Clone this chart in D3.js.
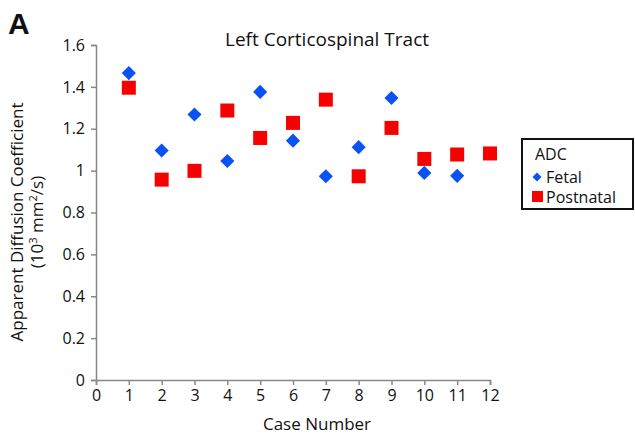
<!DOCTYPE html>
<html>
<head>
<meta charset="utf-8">
<script src="https://cdn.jsdelivr.net/npm/d3@7"></script>
<style>
  body { margin: 0; background: #fff; }
  text { font-family: "Open Sans", sans-serif; fill: #111; }
</style>
</head>
<body>
<script>
const w = 635;
const h = 435;

// data
const cases = [1, 2, 3, 4, 5, 6, 7, 8, 9, 10, 11, 12];
const fetal = [1.466, 1.096, 1.268, 1.046, 1.376, 1.143, 0.973, 1.112, 1.347, 0.989, 0.975, null];
const postnatal = [1.396, 0.957, 0.999, 1.287, 1.156, 1.228, 1.339, 0.973, 1.204, 1.056, 1.077, 1.082];
const xTicks = d3.range(0, 13);
const yTicks = [0, 0.2, 0.4, 0.6, 0.8, 1, 1.2, 1.4, 1.6];

const margin = {left: 96, right: 145, top: 45, bottom: 55};

let svg = d3.select("body")
  .append("svg")
  .attr("width", w)
  .attr("height", h);

const x = d3.scaleLinear().domain([0, 12]).range([margin.left, w - margin.right]);
const y = d3.scaleLinear().domain([0, 1.6]).range([h - margin.bottom, margin.top]);

// axes
const xAxis = svg.append("g")
  .attr("transform", `translate(0,${y(0)})`)
  .call(d3.axisBottom(x).tickValues(xTicks).tickSize(5).tickPadding(5).tickFormat(d3.format("d")));
const yAxis = svg.append("g")
  .attr("transform", `translate(${x(0)},0)`)
  .call(d3.axisLeft(y).tickValues(yTicks).tickSize(5).tickPadding(6).tickFormat(d => d == 0 || d == 1 ? d : d.toFixed(1)));

[xAxis, yAxis].forEach(g => {
  g.select(".domain").attr("stroke", "#888").attr("stroke-width", 1.5);
  g.selectAll(".tick line").attr("stroke", "#888").attr("stroke-width", 1.5);
  g.selectAll(".tick text").style("font-family", "'Open Sans', sans-serif").style("font-size", "16px").attr("fill", "#111");
});

// fetal diamonds
svg.append("g").selectAll("path")
  .data(cases.map((c, i) => ({c: c, v: fetal[i]})).filter(d => d.v != null))
  .join("path")
  .attr("d", d3.symbol().type(d3.symbolSquare).size(100))
  .attr("transform", d => `translate(${x(d.c)},${y(d.v)}) rotate(45)`)
  .attr("fill", "#0a52f5");

// postnatal squares
svg.append("g").selectAll("rect")
  .data(cases.map((c, i) => ({c: c, v: postnatal[i]})))
  .join("rect")
  .attr("x", d => x(d.c) - 7)
  .attr("y", d => y(d.v) - 7)
  .attr("width", 14)
  .attr("height", 14)
  .attr("fill", "#f70000");

// titles
svg.append("text").attr("x", 327).attr("y", 46).attr("text-anchor", "middle")
  .style("font-size", "19px").text("Left Corticospinal Tract");
svg.append("text").attr("x", 8).attr("y", 34)
  .style("font-size", "30px").style("font-weight", "bold").style("font-family", "Arial, 'Liberation Sans', sans-serif")
  .text("A");
svg.append("text").attr("x", 317).attr("y", 430).attr("text-anchor", "middle")
  .style("font-size", "17px").text("Case Number");

const yl = svg.append("text").attr("transform", `translate(23,222) rotate(-90)`)
  .attr("text-anchor", "middle").style("font-size", "17px");
yl.append("tspan").attr("x", 0).attr("dy", 0).text("Apparent Diffusion Coefficient");
const yl2 = svg.append("text").attr("transform", `translate(43,222) rotate(-90)`)
  .attr("text-anchor", "middle").style("font-size", "17px");
yl2.append("tspan").text("(10");
yl2.append("tspan").attr("dy", -6).style("font-size", "11px").text("3");
yl2.append("tspan").attr("dy", 6).text(" mm");
yl2.append("tspan").attr("dy", -6).style("font-size", "11px").text("2");
yl2.append("tspan").attr("dy", 6).text("/s)");

// legend
const lg = svg.append("g").attr("transform", "translate(522,139)");
lg.append("rect").attr("width", 111).attr("height", 70)
  .attr("fill", "#fff").attr("stroke", "#111").attr("stroke-width", 2);
lg.append("text").attr("x", 13).attr("y", 21).style("font-size", "16px").text("ADC");
lg.append("path").attr("d", d3.symbol().type(d3.symbolSquare).size(40))
  .attr("transform", "translate(15,38) rotate(45)").attr("fill", "#0a52f5");
lg.append("text").attr("x", 24).attr("y", 44).style("font-size", "16px").text("Fetal");
lg.append("rect").attr("x", 10).attr("y", 52).attr("width", 11).attr("height", 11).attr("fill", "#f70000");
lg.append("text").attr("x", 24).attr("y", 64).style("font-size", "16px").text("Postnatal");
</script>
</body>
</html>
